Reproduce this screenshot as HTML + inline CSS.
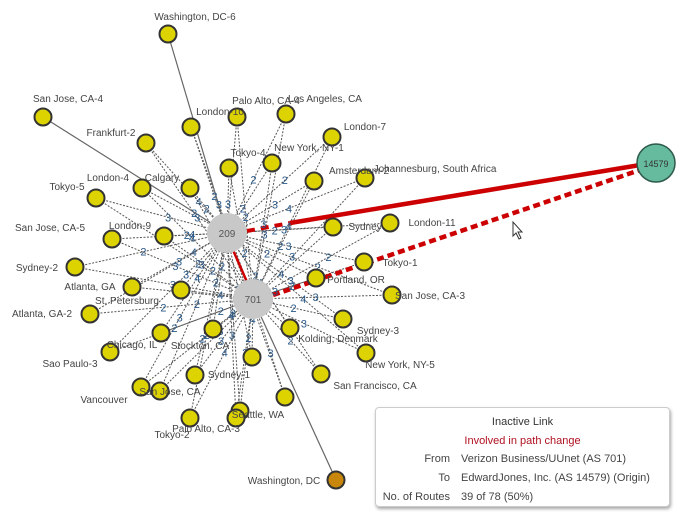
<!DOCTYPE html>
<html><head><meta charset="utf-8"><style>
body{margin:0;background:#fff;width:690px;height:528px;overflow:hidden;font-family:"Liberation Sans",sans-serif}
svg{position:absolute;left:0;top:0}
.box{position:absolute;left:375px;top:407px;width:293px;height:98px;border:1px solid #ccc;border-radius:4px;background:#fff;box-shadow:1px 2px 3px rgba(0,0,0,.35);font-size:11px;color:#444}
.box div{position:absolute;white-space:nowrap}
</style></head><body>
<svg id="s" width="690" height="528" font-family="Liberation Sans, sans-serif"></svg>
<div class="box">
<div style="left:0;width:293px;text-align:center;top:8px;color:#333">Inactive Link</div>
<div style="left:0;width:293px;text-align:center;top:27px;color:#b01020">Involved in path change</div>
<div style="right:219px;top:45px">From</div><div style="left:85px;top:45px">Verizon Business/UUnet (AS 701)</div>
<div style="right:219px;top:64px">To</div><div style="left:85px;top:64px">EdwardJones, Inc. (AS 14579) (Origin)</div>
<div style="right:219px;top:83px">No. of Routes</div><div style="left:85px;top:83px">39 of 78 (50%)</div>
</div>
<script>
const s=document.getElementById('s');let h='';
const A=[227,233],B=[253,299];
const N=[
[168,34,'Washington, DC-6',195,20,0],[43,117,'San Jose, CA-4',68,102,0],[191,127,'London-10',220,115],[237,117,'Palo Alto, CA-4',266,104],[286,114,'Los Angeles, CA',325,102],
[146,143,'Frankfurt-2',111,136],[332,137,'London-7',365,130],[229,168,'Tokyo-4',248,156],[272,163,'New York, NY-1',309,151],[314,181,'Amsterdam-2',359,174],[365,178,'Johannesburg, South Africa',435,172],
[142,188,'London-4',108,181],[190,188,'Calgary',162,181],[96,198,'Tokyo-5',67,190],[112,239,'San Jose, CA-5',50,231],[164,236,'London-9',130,229],
[333,227,'Sydney',365,230],[390,223,'London-11',432,226],[75,267,'Sydney-2',37,271],[364,262,'Tokyo-1',400,266],[132,287,'Atlanta, GA',90,290],[181,290,'St. Petersburg',127,304],
[316,278,'Portland, OR',356,283],[90,314,'Atlanta, GA-2',42,317],[392,295,'San Jose, CA-3',430,299],[161,333,'Chicago, IL',132,348],[213,329,'Stockton, CA',200,349],
[343,319,'Sydney-3',378,334],[290,328,'Kolding, Denmark',338,342],[110,352,'Sao Paulo-3',70,367],[366,353,'New York, NY-5',400,368],[252,357,'',0,0],[195,375,'Sydney-1',229,378],
[141,387,'Vancouver',104,403],[160,391,'San Jose, CA',170,395,2],[321,374,'San Francisco, CA',375,389],[190,418,'Tokyo-2',172,438],[240,411,'Seattle, WA',258,418],[285,397,'',0,0],[236,418,'Palo Alto, CA-3',206,432,2]
];
const lab=[];
N.forEach((n,i)=>{if(n[5]===0)return;[A,B].forEach((H,j)=>{h+=`<line x1="${n[0]}" y1="${n[1]}" x2="${H[0]}" y2="${H[1]}" stroke="#555" stroke-width="1" stroke-dasharray="2,1.5"/>`;
const t=0.45+0.1*((i+j)%3);lab.push([n[0]+(H[0]-n[0])*t,n[1]+(H[1]-n[1])*t,(i*7+j*3)%5==0?'4':((i+j)%2?'3':'2')]);});});
h+=`<line x1="168" y1="34" x2="227" y2="233" stroke="#666" stroke-width="1.2"/><line x1="43" y1="117" x2="227" y2="233" stroke="#666" stroke-width="1.2"/><line x1="336" y1="480" x2="253" y2="299" stroke="#666" stroke-width="1.2"/>`;
h+=`<line x1="233" y1="250" x2="247" y2="282" stroke="#c00" stroke-width="2.5"/>`;
h+=`<line x1="247" y1="231" x2="290" y2="223" stroke="#c00" stroke-width="4" stroke-dasharray="8,6"/><line x1="290" y1="223" x2="640" y2="165" stroke="#c00" stroke-width="4.5"/>`;
h+=`<line x1="273" y1="295" x2="640" y2="170" stroke="#c00" stroke-width="4.5" stroke-dasharray="7,4"/>`;
lab.forEach(l=>h+=`<text x="${l[0].toFixed(1)}" y="${(l[1]+4).toFixed(1)}" font-size="11" fill="#2a5a8a" text-anchor="middle">${l[2]}</text>`);
h+=`<circle cx="227" cy="233" r="20" fill="#c8c8c8"/><text x="227" y="237" font-size="10" fill="#555" text-anchor="middle">209</text>`;
h+=`<circle cx="253" cy="299" r="20" fill="#c8c8c8"/><text x="253" y="303" font-size="10" fill="#555" text-anchor="middle">701</text>`;
h+=`<circle cx="656" cy="163" r="19" fill="#66bb9e" stroke="#2d5a4a" stroke-width="1.5"/><text x="656" y="167" font-size="9" fill="#333" text-anchor="middle">14579</text>`;
N.forEach(n=>{h+=`<circle cx="${n[0]}" cy="${n[1]}" r="8.5" fill="#ddd300" stroke="#333" stroke-width="2"/>`;});
h+=`<circle cx="336" cy="480" r="8.5" fill="#c8860a" stroke="#333" stroke-width="2"/><text x="284" y="484" font-size="10" fill="#444" text-anchor="middle">Washington, DC</text>`;
N.forEach(n=>{if(n[2])h+=`<text x="${n[3]}" y="${n[4]}" font-size="10" fill="#444" text-anchor="middle">${n[2]}</text>`;});
h+=`<path d="M513 222 L513 236 L516 233 L519 239 L521 238 L518 232 L522 232 Z" fill="#fff" stroke="#333" stroke-width="1"/>`;
s.innerHTML=h;
</script>
</body></html>
